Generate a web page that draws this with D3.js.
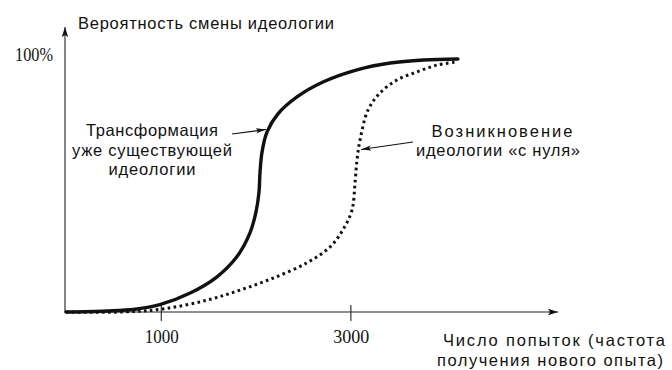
<!DOCTYPE html>
<html lang="ru">
<head>
<meta charset="utf-8">
<title>Вероятность смены идеологии</title>
<script src="https://cdn.jsdelivr.net/npm/d3@7"></script>
<style>
  body { margin: 0; background: #fff; }
  .lbl { font-family: "Liberation Sans", Arial, sans-serif; font-size: 16.5px; fill: #111; }
  .num { font-family: "Liberation Serif", "Times New Roman", serif; font-size: 18px; fill: #111; }
</style>
</head>
<body>
<div id="chart"></div>
<script>
  // transformation of an existing ideology (solid line)
  const solidX = [0, 430, 730, 990, 1310, 1590, 1800, 1940, 2004, 2036, 2047, 2068, 2120, 2236, 2437, 2711, 3070, 3420, 3770, 4135];
  const solidY = [0, 0.4, 1.1, 2.9, 7.5, 13.8, 21.7, 31.2, 39.5, 47.4, 55.3, 63.2, 71.1, 78.3, 85, 90.9, 95.7, 98.4, 99.6, 100];

  // ideology from scratch (dotted line)
  const dottedX = [0, 600, 1020, 1490, 1840, 2185, 2540, 2785, 2920, 3017, 3049, 3070, 3102, 3186, 3313, 3492, 3703, 3914, 4125];
  const dottedY = [0, 0, 1.2, 4.7, 8.7, 13.4, 19.4, 25.7, 32.4, 40.3, 51, 60.1, 68, 79.8, 86.6, 91.7, 94.9, 97.6, 98.8];

  const xTicks = [1000, 3000];
  const yTickLabel = "100%";
  const yTitle = "Вероятность смены идеологии";
  const xTitle = ["Число попыток (частота", "получения нового опыта)"];
  const leftNote = ["Трансформация", "уже существующей", "идеологии"];
  const rightNote = ["Возникновение", "идеологии «с нуля»"];

  const width = 672, height = 370;

  const svg = d3.select("#chart").append("svg")
    .attr("width", width)
    .attr("height", height);

  const x = d3.scaleLinear().domain([0, 5180]).range([66, 557]);
  const y = d3.scaleLinear().domain([0, 100]).range([312, 59]);

  // arrowheads
  const defs = svg.append("defs");
  defs.append("marker")
    .attr("id", "axis-arrow")
    .attr("viewBox", "0 0 10 8")
    .attr("refX", 10).attr("refY", 4)
    .attr("markerWidth", 10).attr("markerHeight", 8)
    .attr("markerUnits", "userSpaceOnUse")
    .attr("orient", "auto")
    .append("path").attr("d", "M0,0.8 L10,4 L0,7.2 L2,4 Z").attr("fill", "#111");
  defs.append("marker")
    .attr("id", "note-arrow")
    .attr("viewBox", "0 0 10 6")
    .attr("refX", 10).attr("refY", 3)
    .attr("markerWidth", 10).attr("markerHeight", 6)
    .attr("markerUnits", "userSpaceOnUse")
    .attr("orient", "auto")
    .append("path").attr("d", "M0,0.5 L10,3 L0,5.5 L2,3 Z").attr("fill", "#111");

  // x axis with ticks crossing the line
  const xAxis = d3.axisBottom(x)
    .tickValues(xTicks)
    .tickSizeInner(8)
    .tickSizeOuter(0)
    .tickFormat("");
  const gx = svg.append("g").attr("transform", "translate(0," + y(0) + ")").call(xAxis);
  gx.select(".domain").remove();
  gx.selectAll(".tick line").attr("y1", -7).attr("y2", 9).attr("stroke", "#333").attr("stroke-width", 1.2);

  svg.append("line")
    .attr("x1", 65).attr("x2", x.range()[1] + 1)
    .attr("y1", y(0)).attr("y2", y(0))
    .attr("stroke", "#222").attr("stroke-width", 1.1)
    .attr("marker-end", "url(#axis-arrow)");

  svg.append("line")
    .attr("x1", 65).attr("x2", 65)
    .attr("y1", y(0) + 0.5).attr("y2", 27)
    .attr("stroke", "#222").attr("stroke-width", 1.1)
    .attr("marker-end", "url(#axis-arrow)");

  // tick labels
  const tickW = {1000: 34, 3000: 36};
  svg.selectAll(".xtick-label")
    .data(xTicks)
    .enter().append("text")
    .attr("class", "num")
    .attr("x", function(d) { return x(d) + 1; })
    .attr("y", 343)
    .attr("text-anchor", "middle")
    .attr("textLength", function(d) { return tickW[d]; })
    .attr("lengthAdjust", "spacingAndGlyphs")
    .text(function(d) { return d; });

  svg.append("text")
    .attr("class", "num")
    .attr("x", 15).attr("y", y(100) + 2)
    .attr("textLength", 38)
    .attr("lengthAdjust", "spacingAndGlyphs")
    .text(yTickLabel);

  // titles
  svg.append("text")
    .attr("class", "lbl")
    .attr("x", 78).attr("y", 29)
    .attr("textLength", 256)
    .attr("lengthAdjust", "spacing")
    .text(yTitle);

  const xTitleW = [222, 226];
  svg.selectAll(".xtitle")
    .data(xTitle)
    .enter().append("text")
    .attr("class", "lbl")
    .attr("x", function(d, i) { return i ? 550 : 554; })
    .attr("y", function(d, i) { return 346 + i * 19.5; })
    .attr("text-anchor", "middle")
    .attr("textLength", function(d, i) { return xTitleW[i]; })
    .attr("lengthAdjust", "spacing")
    .text(function(d) { return d; });

  // curves
  const line = d3.line()
    .x(function(d) { return x(d[0]); })
    .y(function(d) { return y(d[1]); })
    .curve(d3.curveCatmullRom.alpha(0.5));

  svg.append("path")
    .datum(dottedX.map(function(v, i) { return [v, dottedY[i]]; }))
    .attr("d", line)
    .attr("fill", "none")
    .attr("stroke", "#111")
    .attr("stroke-width", 3)
    .attr("stroke-dasharray", "2.6,3.4");

  svg.append("path")
    .datum(solidX.map(function(v, i) { return [v, solidY[i]]; }))
    .attr("d", line)
    .attr("fill", "none")
    .attr("stroke", "#111")
    .attr("stroke-width", 3.4)
    .attr("stroke-linecap", "round");

  // annotations
  const leftW = [132, 160, 87];
  svg.selectAll(".left-note")
    .data(leftNote)
    .enter().append("text")
    .attr("class", "lbl")
    .attr("x", 152)
    .attr("y", function(d, i) { return 136 + i * 19.5; })
    .attr("text-anchor", "middle")
    .attr("textLength", function(d, i) { return leftW[i]; })
    .attr("lengthAdjust", "spacing")
    .text(function(d) { return d; });

  const rightW = [141, 164];
  svg.selectAll(".right-note")
    .data(rightNote)
    .enter().append("text")
    .attr("class", "lbl")
    .attr("x", function(d, i) { return i ? 498 : 502; })
    .attr("y", function(d, i) { return 137 + i * 18.5; })
    .attr("text-anchor", "middle")
    .attr("textLength", function(d, i) { return rightW[i]; })
    .attr("lengthAdjust", "spacing")
    .text(function(d) { return d; });

  svg.append("line")
    .attr("x1", 232).attr("y1", 134)
    .attr("x2", 266).attr("y2", 129.5)
    .attr("stroke", "#111").attr("stroke-width", 1.2)
    .attr("marker-end", "url(#note-arrow)");

  svg.append("line")
    .attr("x1", 413).attr("y1", 142)
    .attr("x2", 361).attr("y2", 149.5)
    .attr("stroke", "#111").attr("stroke-width", 1.2)
    .attr("marker-end", "url(#note-arrow)");
</script>
</body>
</html>
